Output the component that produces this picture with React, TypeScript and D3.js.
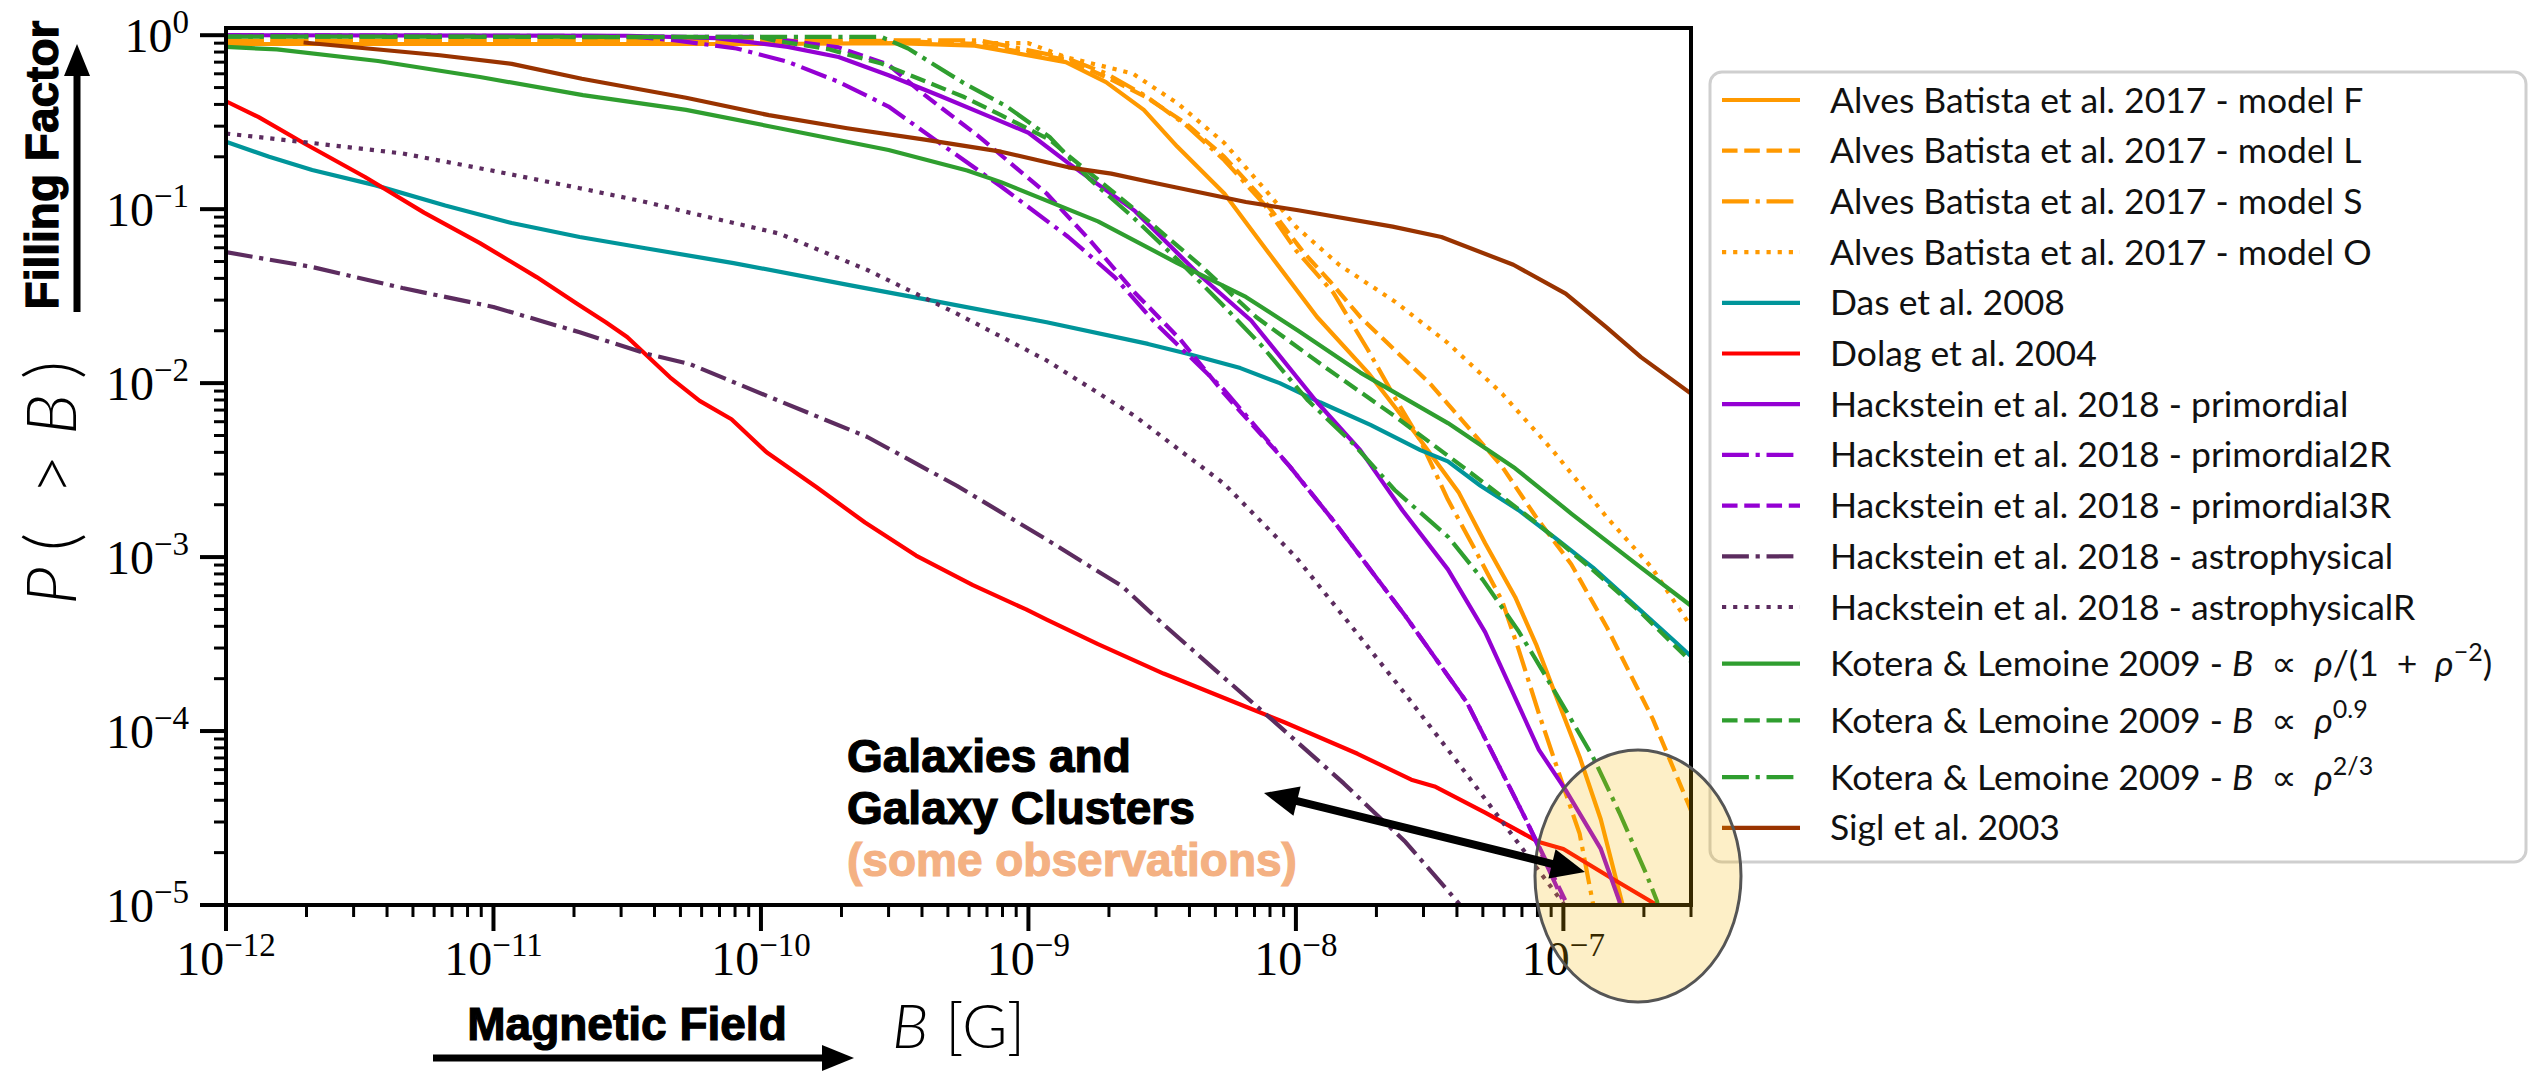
import { line, scaleLog } from 'd3'
import { useMemo } from 'react'

type Pt = [number, number]

// B [G] vs P(>B)
const alvesF: Pt[] = [
  [1e-12, 0.89], [1e-10, 0.89], [3.2e-10, 0.9], [6.3e-10, 0.871], [1.38e-9, 0.7], [1.95e-9, 0.537],
  [2.7e-9, 0.372], [3.6e-9, 0.229], [5.4e-9, 0.123], [7.9e-9, 0.0562], [1.2e-8, 0.024], [1.86e-8, 0.0115],
  [2.8e-8, 0.00513], [4.07e-8, 0.00234], [5.1e-8, 0.0012], [6.6e-8, 5.9e-4], [7.9e-8, 3.16e-4],
  [9.4e-8, 1.58e-4], [1.15e-7, 7.1e-5], [1.38e-7, 3.1e-5], [1.66e-7, 1.02e-5], [1.7e-7, 8e-6],
]
const alvesL: Pt[] = [
  [1e-12, 0.927], [3.2e-10, 0.927], [6.3e-10, 0.891], [1.38e-9, 0.724], [1.95e-9, 0.575], [2.75e-9, 0.441],
  [3.9e-9, 0.309], [5.4e-9, 0.2], [7.6e-9, 0.112], [1.07e-8, 0.0562], [1.35e-8, 0.038], [1.74e-8, 0.024],
  [2.34e-8, 0.0155], [3.16e-8, 0.01], [4.27e-8, 0.00589], [5.9e-8, 0.00331], [7.9e-8, 0.0017],
  [1.07e-7, 9.1e-4], [1.45e-7, 3.98e-4], [2.16e-7, 1.17e-4], [3.0e-7, 3.5e-5],
]
const alvesS: Pt[] = [
  [1e-12, 0.927], [3.2e-10, 0.933], [6.6e-10, 0.933], [1.38e-9, 0.741], [1.95e-9, 0.603], [2.75e-9, 0.447],
  [3.9e-9, 0.302], [5.4e-9, 0.191], [7.6e-9, 0.107], [1e-8, 0.058], [1.38e-8, 0.0331], [1.86e-8, 0.0155],
  [2.34e-8, 0.0083], [2.92e-8, 0.00468], [3.7e-8, 0.00214], [4.68e-8, 0.0011], [5.9e-8, 5.6e-4],
  [6.8e-8, 2.95e-4], [8.1e-8, 1.26e-4], [1e-7, 4.8e-5], [1.15e-7, 2.57e-5], [1.29e-7, 1.02e-5], [1.32e-7, 8e-6],
]
const alvesO: Pt[] = [
  [1e-12, 0.912], [1e-9, 0.9], [1.38e-9, 0.748], [2.45e-9, 0.603], [3.6e-9, 0.407], [5.4e-9, 0.24],
  [7.9e-9, 0.123], [1e-8, 0.0794], [1.45e-8, 0.0479], [2.34e-8, 0.0295], [3.7e-8, 0.017], [5.9e-8, 0.0087],
  [9.1e-8, 0.00412], [1.45e-7, 0.0017], [2.14e-7, 8.7e-4], [3.0e-7, 3.98e-4],
]
const das: Pt[] = [
  [1e-12, 0.244], [1.45e-12, 0.2], [2.1e-12, 0.168], [3.63e-12, 0.137], [6.6e-12, 0.105], [1.17e-11, 0.0832],
  [2.1e-11, 0.0692], [3.7e-11, 0.0596], [7.9e-11, 0.049], [2.14e-10, 0.0366], [4.27e-10, 0.03],
  [1.17e-9, 0.0224], [2.8e-9, 0.0168], [3.9e-9, 0.0148], [6.2e-9, 0.0122], [8.7e-9, 0.01], [1.23e-8, 0.00776],
  [1.9e-8, 0.00575], [2.92e-8, 0.00412], [3.7e-8, 0.00355], [4.9e-8, 0.00257], [6.8e-8, 0.00186],
  [9.5e-8, 0.00126], [1.29e-7, 8.7e-4], [1.82e-7, 5.4e-4], [2.63e-7, 3.24e-4], [3.0e-7, 2.69e-4],
]
const dolag: Pt[] = [
  [1e-12, 0.417], [1.32e-12, 0.339], [1.95e-12, 0.24], [3.31e-12, 0.153], [5.5e-12, 0.0955], [8.9e-12, 0.0638],
  [1.45e-11, 0.0407], [2.04e-11, 0.0288], [2.63e-11, 0.0224], [3.16e-11, 0.0184], [4.57e-11, 0.0108],
  [5.9e-11, 0.0079], [7.76e-11, 0.0062], [1.05e-10, 0.004], [1.62e-10, 0.00251], [2.45e-10, 0.00158],
  [3.8e-10, 0.00102], [6.2e-10, 6.9e-4], [9.8e-10, 5.0e-4], [1.17e-9, 4.37e-4], [1.82e-9, 3.16e-4],
  [3.2e-9, 2.14e-4], [6.0e-9, 1.45e-4], [9.1e-9, 1.12e-4], [1.7e-8, 7.4e-5], [2.7e-8, 5.25e-5],
  [3.3e-8, 4.8e-5], [5.1e-8, 3.4e-5], [8.1e-8, 2.3e-5], [1e-7, 2.1e-5], [1.51e-7, 1.43e-5], [2.19e-7, 1.02e-5],
  [2.3e-7, 9e-6],
]
const hackPrim: Pt[] = [
  [1e-12, 1.0], [3.16e-11, 0.993], [6.8e-11, 0.962], [1.26e-10, 0.857], [1.95e-10, 0.75], [3.0e-10, 0.589],
  [4.68e-10, 0.447], [7.2e-10, 0.339], [1e-9, 0.275], [1.41e-9, 0.184], [2.5e-9, 0.0977], [4.37e-9, 0.0417],
  [6.8e-9, 0.0229], [1.2e-8, 0.00776], [1.74e-8, 0.00412], [2.5e-8, 0.00186], [3.7e-8, 8.5e-4],
  [5.1e-8, 3.7e-4], [8.1e-8, 7.8e-5], [1.02e-7, 4.57e-5], [1.38e-7, 2.1e-5], [1.62e-7, 1.05e-5], [1.66e-7, 8e-6],
]
const hackPrim2R: Pt[] = [
  [1e-12, 0.998], [3.16e-11, 0.989], [4.8e-11, 0.933], [8.1e-11, 0.839], [1.26e-10, 0.703], [1.95e-10, 0.54],
  [3.0e-10, 0.389], [4.47e-10, 0.251], [7.9e-10, 0.135], [1.41e-9, 0.0692], [2.1e-9, 0.0407], [3.0e-9, 0.0219],
  [5.4e-9, 0.00912], [9.5e-9, 0.00331], [1.38e-8, 0.00162], [2.57e-8, 4.57e-4], [4.37e-8, 1.45e-4],
  [7.2e-8, 3.16e-5], [1e-7, 1.05e-5], [1.03e-7, 8e-6],
]
const hackPrim3R: Pt[] = [
  [1e-12, 0.998], [1e-10, 0.977], [1.95e-10, 0.851], [3.0e-10, 0.676], [3.98e-10, 0.468], [6.5e-10, 0.263],
  [1.17e-9, 0.123], [1.7e-9, 0.0661], [2.5e-9, 0.0331], [3.7e-9, 0.0178], [5.4e-9, 0.0087], [9.5e-9, 0.00331],
  [1.38e-8, 0.00162], [2.57e-8, 4.57e-4], [4.37e-8, 1.45e-4], [7.2e-8, 3.16e-5], [1.02e-7, 1.05e-5],
  [1.05e-7, 8e-6],
]
const hackAstro: Pt[] = [
  [1e-12, 0.0566], [2.1e-12, 0.0465], [4.57e-12, 0.0352], [1e-11, 0.0274], [2.1e-11, 0.0196], [3.7e-11, 0.0148],
  [5.4e-11, 0.0129], [1.17e-10, 0.0079], [2.5e-10, 0.0049], [5.4e-10, 0.00257], [1.17e-9, 0.00126],
  [2.24e-9, 6.8e-4], [3.16e-9, 4.17e-4], [5.0e-9, 2.24e-4], [8.1e-9, 1.17e-4], [1.51e-8, 5.0e-5],
  [2.57e-8, 2.3e-5], [4.07e-8, 1.02e-5], [4.2e-8, 8e-6],
]
const hackAstroR: Pt[] = [
  [1e-12, 0.272], [2.1e-12, 0.24], [4.57e-12, 0.209], [1e-11, 0.166], [2.1e-11, 0.132], [3.7e-11, 0.11],
  [5.4e-11, 0.0955], [1.17e-10, 0.0724], [2.5e-10, 0.0447], [5.4e-10, 0.0251], [1.17e-9, 0.0135],
  [2.5e-9, 0.00646], [5.4e-9, 0.00263], [1e-8, 0.001], [1.58e-8, 4.17e-4], [2.51e-8, 1.7e-4],
  [3.98e-8, 6.76e-5], [6.31e-8, 2.63e-5], [1e-7, 1.02e-5], [1.03e-7, 8e-6],
]
const koteraA: Pt[] = [
  [1e-12, 0.857], [1.55e-12, 0.828], [3.7e-12, 0.711], [8.9e-12, 0.575], [2.16e-11, 0.452], [5.25e-11, 0.372],
  [1.17e-10, 0.292], [3.0e-10, 0.219], [5.9e-10, 0.167], [7.9e-10, 0.143], [1.82e-9, 0.0851], [3.6e-9, 0.049],
  [6.5e-9, 0.0313], [1.02e-8, 0.02], [1.74e-8, 0.0115], [3.7e-8, 0.00589], [6.6e-8, 0.00324],
  [1.07e-7, 0.00178], [1.95e-7, 8.7e-4], [3.0e-7, 5.25e-4],
]
const koteraB: Pt[] = [
  [1e-12, 0.982], [1e-10, 0.973], [1.12e-10, 0.933], [1.78e-10, 0.832], [2.82e-10, 0.687], [5.75e-10, 0.441],
  [7.9e-10, 0.347], [1.2e-9, 0.251], [1.38e-9, 0.209], [2.45e-9, 0.102], [4.37e-9, 0.0479], [7.1e-9, 0.024],
  [1.29e-8, 0.0123], [2.34e-8, 0.00646], [4.37e-8, 0.00316], [7.9e-8, 0.00158], [1.26e-7, 8.7e-4],
  [1.95e-7, 4.79e-4], [3.0e-7, 2.51e-4],
]
const koteraC: Pt[] = [
  [1e-12, 0.982], [2.82e-10, 0.977], [3.55e-10, 0.839], [5.75e-10, 0.529], [8.3e-10, 0.389], [1.2e-9, 0.26],
  [1.7e-9, 0.148], [2.45e-9, 0.0904], [3.72e-9, 0.049], [5.25e-9, 0.0288], [7.4e-9, 0.0166], [1.11e-8, 0.00794],
  [1.64e-8, 0.00447], [2.34e-8, 0.00243], [3.72e-8, 0.0013], [5.0e-8, 7.4e-4], [6.76e-8, 3.8e-4],
  [7.76e-8, 2.69e-4], [1.02e-7, 1.32e-4], [1.29e-7, 7.1e-5], [1.62e-7, 3.39e-5], [2.04e-7, 1.51e-5],
  [2.24e-7, 1.05e-5], [2.3e-7, 8e-6],
]
const sigl: Pt[] = [
  [1.95e-12, 0.908], [6.3e-12, 0.767], [1.17e-11, 0.684], [2.14e-11, 0.562], [5.25e-11, 0.437], [1.07e-10, 0.347],
  [2.1e-10, 0.292], [4.1e-10, 0.251], [7.9e-10, 0.214], [1.41e-9, 0.174], [2.04e-9, 0.16], [3.0e-9, 0.141],
  [6.5e-9, 0.11], [1.02e-8, 0.0986], [2.3e-8, 0.0794], [3.5e-8, 0.0692], [6.5e-8, 0.0479], [1.02e-7, 0.0327],
  [1.45e-7, 0.0209], [1.95e-7, 0.0141], [3.0e-7, 0.0087],
]

const legendLabels = [
  'Alves Batista et al. 2017 - model F',
  'Alves Batista et al. 2017 - model L',
  'Alves Batista et al. 2017 - model S',
  'Alves Batista et al. 2017 - model O',
  'Das et al. 2008',
  'Dolag et al. 2004',
  'Hackstein et al. 2018 - primordial',
  'Hackstein et al. 2018 - primordial2R',
  'Hackstein et al. 2018 - primordial3R',
  'Hackstein et al. 2018 - astrophysical',
  'Hackstein et al. 2018 - astrophysicalR',
  'Kotera & Lemoine 2009 - ',
  'Kotera & Lemoine 2009 - ',
  'Kotera & Lemoine 2009 - ',
  'Sigl et al. 2003',
]
type Seg = [string, 'n' | 'i' | 's']
const legendMath: (Seg[] | null)[] = [
  null, null, null, null, null, null, null, null, null, null, null,
  [['B', 'i'], ['\u2002\u221d\u2002', 'n'], ['\u03c1', 'i'], ['/(1\u2002+\u2002', 'n'], ['\u03c1', 'i'], ['\u22122', 's'], [')', 'n']],
  [['B', 'i'], ['\u2002\u221d\u2002', 'n'], ['\u03c1', 'i'], ['0.9', 's']],
  [['B', 'i'], ['\u2002\u221d\u2002', 'n'], ['\u03c1', 'i'], ['2/3', 's']],
  null,
]
// y-axis label pieces: glyph, italic?
const yLabelParts: [string, boolean][] = [['P', true], ['(', false], ['>', false], ['B', true], [')', false]]

const seriesData = [alvesF, alvesL, alvesS, alvesO, das, dolag, hackPrim, hackPrim2R, hackPrim3R,
  hackAstro, hackAstroR, koteraA, koteraB, koteraC, sigl]

const orange = '#ff9900'
const purple = '#9400d3'
const plum = '#5c2c5f'
const green = '#2f9e2f'
const seriesColors = [orange, orange, orange, orange, '#00959a', '#ff0000', purple, purple, purple,
  plum, plum, green, green, green, '#993300']
const seriesDash = ['solid', 'dashed', 'dashdot', 'dotted', 'solid', 'solid', 'solid', 'dashdot', 'dashed',
  'dashdot', 'dotted', 'solid', 'dashed', 'dashdot', 'solid']

const xMajor = [1e-12, 1e-11, 1e-10, 1e-9, 1e-8, 1e-7]
const xMajorExp = ['\u221212', '\u221211', '\u221210', '\u22129', '\u22128', '\u22127']
const yMajor = [1, 1e-1, 1e-2, 1e-3, 1e-4, 1e-5]
const yMajorExp = ['0', '\u22121', '\u22122', '\u22123', '\u22124', '\u22125']

const width = 2529
const height = 1071
const plot = { left: 226, top: 28, right: 1691, bottom: 905 }
const lw = 4.2
const dashArray: Record<string, string | undefined> = {
  solid: undefined,
  dashed: `${3.7 * lw} ${1.6 * lw}`,
  dashdot: `${6.4 * lw} ${1.6 * lw} ${1 * lw} ${1.6 * lw}`,
  dotted: `${1 * lw} ${1.65 * lw}`,
}
const serif = '"Liberation Serif", "DejaVu Serif", serif'
const sans = 'Lato, "Open Sans", "DejaVu Sans", sans-serif'
const bold = '"Liberation Sans", Arial, sans-serif'

const arrowHead = (x1: number, y1: number, x2: number, y2: number, len: number, half: number) => {
  const d = Math.hypot(x2 - x1, y2 - y1)
  const ux = (x2 - x1) / d
  const uy = (y2 - y1) / d
  const bx = x2 - ux * len
  const by = y2 - uy * len
  return `${x2},${y2} ${bx - uy * half},${by + ux * half} ${bx + uy * half},${by - ux * half}`
}

const App = () => {
  const x = useMemo(() => scaleLog().domain([1e-12, 3e-7]).range([plot.left, plot.right]), [])
  const y = useMemo(() => scaleLog().domain([1e-5, 1.1]).range([plot.bottom, plot.top]), [])
  const path = line<Pt>().x((d) => x(d[0])).y((d) => y(d[1]))

  const xMinor = x.ticks().filter((t) => !xMajor.some((m) => Math.abs(m - t) / m < 1e-6))
  const yMinor = y.ticks().filter((t) => !yMajor.some((m) => Math.abs(m - t) / m < 1e-6) && t <= 1.1)

  let rowY = 100
  const rows = legendLabels.map((_, i) => {
    if (i > 0) rowY += 50.7 + (legendMath[i] ? 6 : 0)
    return rowY
  })

  const lg = { x: 1710, y: 72, w: 816, h: 790 }
  const dbl = { x1: 1264, y1: 793, x2: 1585, y2: 872 }
  const dlen = Math.hypot(dbl.x2 - dbl.x1, dbl.y2 - dbl.y1)
  const ux = (dbl.x2 - dbl.x1) / dlen
  const uy = (dbl.y2 - dbl.y1) / dlen
  // offsets of y-label glyphs along the rotated baseline
  const yLabelOffsets = [0, 54, 110, 170, 226]

  return (
    <svg width={width} height={height} style={{ position: 'absolute', left: 0, top: 0, background: '#fff' }}>
      <defs>
        <clipPath id="plotclip">
          <rect x={plot.left} y={plot.top} width={plot.right - plot.left} height={plot.bottom - plot.top} />
        </clipPath>
      </defs>
      <rect width={width} height={height} fill="#fff" />

      <g clipPath="url(#plotclip)">
        {seriesData.map((d, i) => (
          <path key={i} d={path(d) ?? ''} fill="none" stroke={seriesColors[i]} strokeWidth={lw}
            strokeDasharray={dashArray[seriesDash[i]]} strokeLinejoin="round" />
        ))}
      </g>

      {/* axes frame */}
      <rect x={plot.left} y={plot.top} width={plot.right - plot.left} height={plot.bottom - plot.top}
        fill="none" stroke="#000" strokeWidth={4} />

      {/* x ticks */}
      {xMajor.map((t, i) => (
        <g key={`xm${i}`}>
          <line x1={x(t)} x2={x(t)} y1={plot.bottom} y2={plot.bottom + 26} stroke="#000" strokeWidth={4} />
          <text x={x(t)} y={975} textAnchor="middle" fontFamily={serif} fontSize={48}>
            10<tspan fontSize={33} dy={-19}>{xMajorExp[i]}</tspan>
          </text>
        </g>
      ))}
      {xMinor.map((t, i) => (
        <line key={`xn${i}`} x1={x(t)} x2={x(t)} y1={plot.bottom} y2={plot.bottom + 12} stroke="#000" strokeWidth={3} />
      ))}

      {/* y ticks */}
      {yMajor.map((t, i) => (
        <g key={`ym${i}`}>
          <line x1={plot.left - 26} x2={plot.left} y1={y(t)} y2={y(t)} stroke="#000" strokeWidth={4} />
          <text x={189} y={y(t) + 17} textAnchor="end" fontFamily={serif} fontSize={48}>
            10<tspan fontSize={33} dy={-19}>{yMajorExp[i]}</tspan>
          </text>
        </g>
      ))}
      {yMinor.map((t, i) => (
        <line key={`yn${i}`} x1={plot.left - 12} x2={plot.left} y1={y(t)} y2={y(t)} stroke="#000" strokeWidth={3} />
      ))}

      {/* axis labels */}
      <g transform="translate(76,605) rotate(-90)" fontFamily={sans} fontSize={70} fontWeight={300}>
        {yLabelParts.map(([s, it], i) => (
          <text key={i} x={yLabelOffsets[i]} y={0} fontStyle={it ? 'italic' : 'normal'}>{s}</text>
        ))}
      </g>
      <text x={(plot.left + plot.right) / 2} y={1048} textAnchor="middle" fontFamily={sans} fontSize={62} fontWeight={300}>
        <tspan fontStyle="italic">B</tspan> [G]
      </text>

      {/* legend */}
      <rect x={lg.x} y={lg.y} width={lg.w} height={lg.h} rx={12} fill="#fff" fillOpacity={0.85}
        stroke="#cfcfcf" strokeWidth={3} />
      {legendLabels.map((label, i) => (
        <g key={`lg${i}`}>
          <line x1={1722} x2={1800} y1={rows[i]} y2={rows[i]} stroke={seriesColors[i]} strokeWidth={lw}
            strokeDasharray={dashArray[seriesDash[i]]} />
          <text x={1830} y={rows[i] + 12.5} fontFamily={sans} fontSize={35.5} fill="#111">
            {label}
            {legendMath[i]?.map(([s, k], j, arr) => {
              const prevSup = j > 0 && arr[j - 1][1] === 's'
              if (k === 's') return <tspan key={j} fontSize={25} dy={-15}>{s}</tspan>
              return (
                <tspan key={j} fontStyle={k === 'i' ? 'italic' : 'normal'} dy={prevSup ? 15 : 0}>{s}</tspan>
              )
            })}
          </text>
        </g>
      ))}

      {/* side annotations */}
      <text transform="translate(58,165) rotate(-90)" textAnchor="middle" fontFamily={bold} fontWeight={700}
        fontSize={46} stroke="#000" strokeWidth={1.2}>
        Filling Factor
      </text>
      <line x1={77} x2={77} y1={312} y2={72} stroke="#000" strokeWidth={7} />
      <polygon points={arrowHead(77, 312, 77, 44, 32, 13)} fill="#000" />

      <text x={627} y={1040} textAnchor="middle" fontFamily={bold} fontWeight={700} fontSize={46}
        stroke="#000" strokeWidth={1.2}>
        Magnetic Field
      </text>
      <line x1={433} x2={824} y1={1058} y2={1058} stroke="#000" strokeWidth={7} />
      <polygon points={arrowHead(433, 1058, 854, 1058, 32, 13)} fill="#000" />

      <g fontFamily={bold} fontWeight={700} fontSize={46}>
        <text x={847} y={772} stroke="#000" strokeWidth={1.2}>Galaxies and</text>
        <text x={847} y={824} stroke="#000" strokeWidth={1.2}>Galaxy Clusters</text>
        <text x={847} y={876} fill="#f4b183" stroke="#f4b183" strokeWidth={1.2}>(some observations)</text>
      </g>

      {/* highlighted region */}
      <ellipse cx={1638} cy={876} rx={103} ry={126} fill="#f6b500" fillOpacity={0.22} stroke="#555" strokeWidth={3} />

      <line x1={dbl.x1 + ux * 28} y1={dbl.y1 + uy * 28} x2={dbl.x2 - ux * 28} y2={dbl.y2 - uy * 28}
        stroke="#000" strokeWidth={8} />
      <polygon points={arrowHead(dbl.x2, dbl.y2, dbl.x1, dbl.y1, 34, 15)} fill="#000" />
      <polygon points={arrowHead(dbl.x1, dbl.y1, dbl.x2, dbl.y2, 34, 15)} fill="#000" />
    </svg>
  )
}

export default App
